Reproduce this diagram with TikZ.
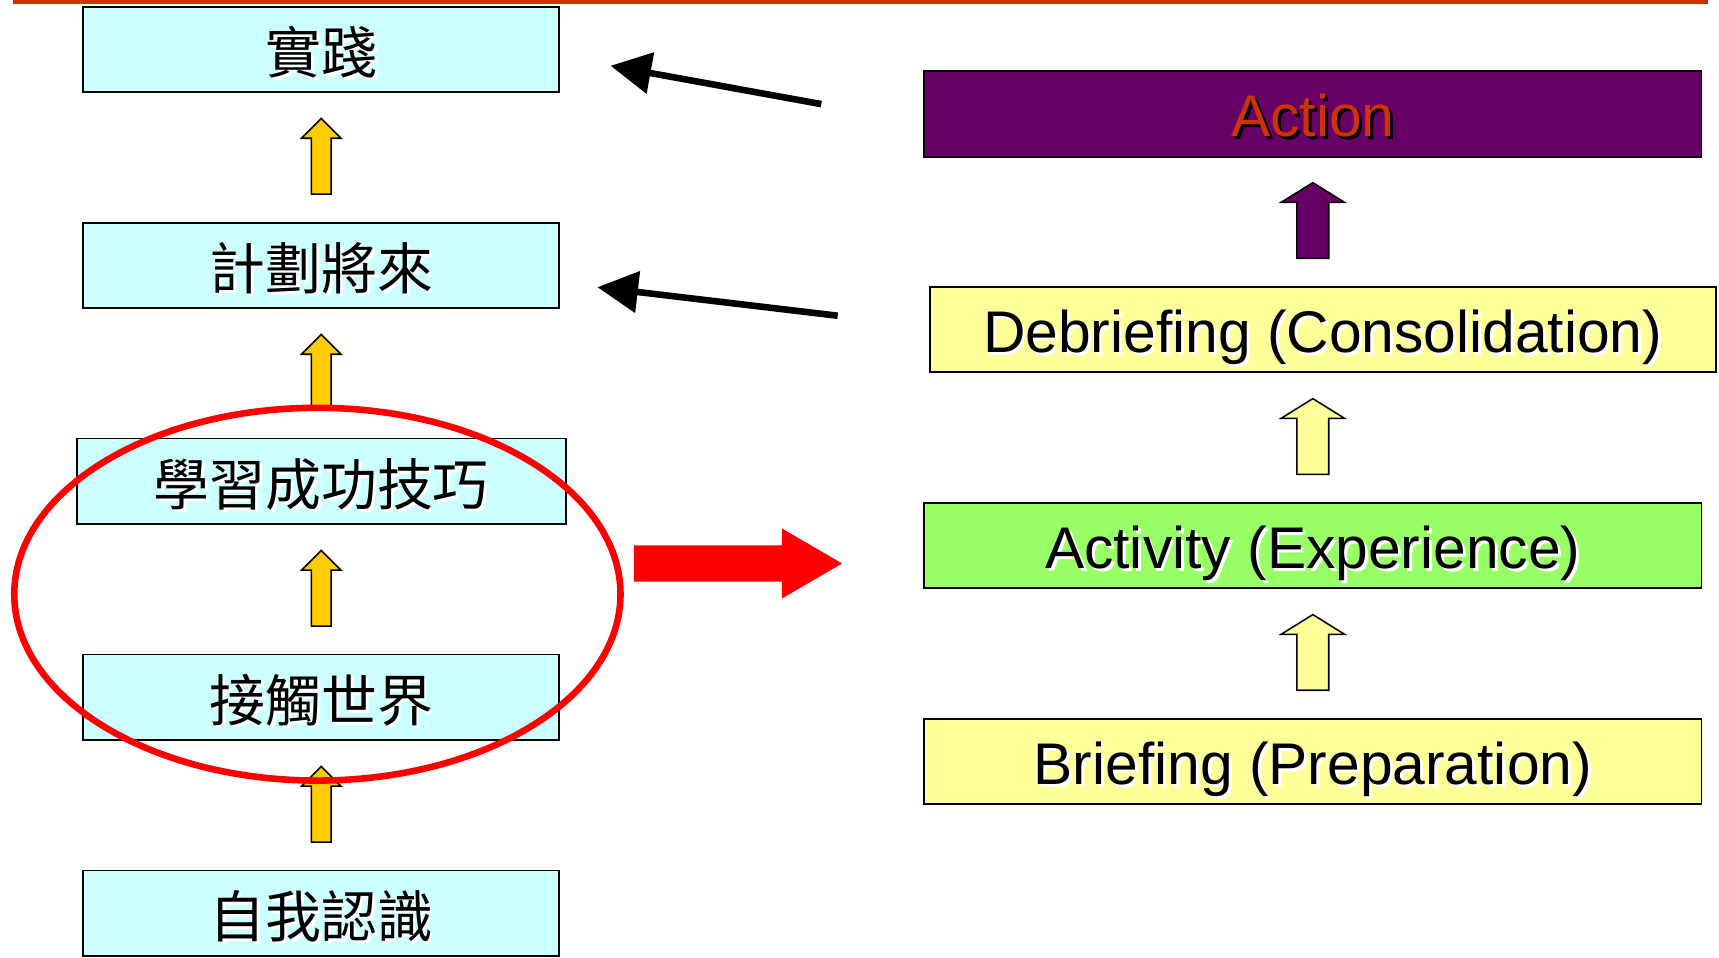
\documentclass[tikz,border=0pt]{standalone}
\usepackage{fontspec}
\setmainfont{Liberation Sans}
\newfontfamily\cjk{Noto Sans CJK TC}
\usepackage{xcolor}
\usetikzlibrary{arrows.meta,calc}
\definecolor{topline}{RGB}{204,51,0}
\definecolor{cyanbg}{RGB}{204,255,255}
\definecolor{goldarr}{RGB}{255,204,0}
\definecolor{plum}{RGB}{102,0,102}
\definecolor{paleyel}{RGB}{255,255,153}
\definecolor{lime}{RGB}{153,255,102}
\definecolor{acttxt}{RGB}{204,51,0}
\newcommand\dropsh[2]{\leavevmode\rlap{\kern0.05em\raisebox{-0.05em}{\color{#1}#2}}#2}
\newcommand\uparr[3]{\filldraw[blockarr,fill=#3]($#1+(-#2/2,0.5)$)--++(0,1.02)--++(-#2/2,0)--++(#2,0.36)--++(#2,-0.36)--++(-#2/2,0)--++(0,-1.02)--cycle;}
\tikzset{
  cnbox/.style={draw,line width=1pt,fill=cyanbg,minimum width=8.68cm,minimum height=1.56cm,inner sep=0pt,text height=29pt,text depth=3.5pt,font=\cjk\fontsize{29}{34}\selectfont},
  enbox/.style={draw,line width=1pt,minimum width=14.18cm,minimum height=1.56cm,inner sep=0pt,text height=23.7pt,text depth=0pt,font=\fontsize{30.5}{36}\selectfont},
  blockarr/.style={draw=black,line width=0.8pt},
  ptr/.style={line width=0.12cm,-{Triangle[length=0.74cm,width=0.74cm]}}
}

\begin{document}
\begin{tikzpicture}
\useasboundingbox(0,0)rectangle(31.36,17.46);
\draw[topline,line width=0.08cm](0.24,17.42)--(31.16,17.42);
\node[cnbox](prac)at(5.86,16.56){\dropsh{white}{實踐}};
\node[cnbox](plan)at(5.86,12.62){\dropsh{white}{計劃將來}};
\node[cnbox,minimum width=8.92cm](learn)at(5.86,8.68){\dropsh{white}{學習成功技巧}};
\node[cnbox](touch)at(5.86,4.74){\dropsh{white}{接觸世界}};
\node[cnbox](self)at(5.86,0.80){\dropsh{white}{自我認識}};
\node[enbox,fill=plum,text=acttxt](act)at(23.95,15.38){\dropsh{black}{Action}};
\node[enbox,fill=paleyel,minimum width=14.34cm](deb)at(24.13,11.45){\dropsh{white}{Debriefing (Consolidation)}};
\node[enbox,fill=lime](exp)at(23.95,7.51){\dropsh{white}{Activity (Experience)}};
\node[enbox,fill=paleyel](brf)at(23.95,3.57){\dropsh{white}{Briefing (Preparation)}};
\uparr{(self.north)}{0.36}{goldarr}
\uparr{(touch.north)}{0.36}{goldarr}
\uparr{(learn.north)}{0.36}{goldarr}
\uparr{(plan.north)}{0.36}{goldarr}
\uparr{(brf.north)}{0.58}{paleyel}
\uparr{(exp.north)}{0.58}{paleyel}
\uparr{(deb.north -| act.south)}{0.58}{plum}
\coordinate(s1)at($(act.west)+(-1.86,0.18)$);
\coordinate(t1)at($(prac.east)+(0.92,-0.30)$);
\coordinate(s2)at($(deb.west)+(-1.66,0.25)$);
\coordinate(t2)at($(plan.east)+(0.68,-0.40)$);
\draw[ptr](s1)--(t1);
\draw[ptr](s2)--(t2);
\coordinate(rt)at($(exp.west)+(-1.48,-0.33)$);
\fill[red](rt)--++(-1.1,0.64)--++(0,-0.31)--++(-2.7,0)--++(0,-0.66)--++(2.7,0)--++(0,-0.31)--cycle;
\draw[red,line width=0.12cm](5.79,6.62)ellipse[x radius=5.53,y radius=3.40];
\end{tikzpicture}
\end{document}
